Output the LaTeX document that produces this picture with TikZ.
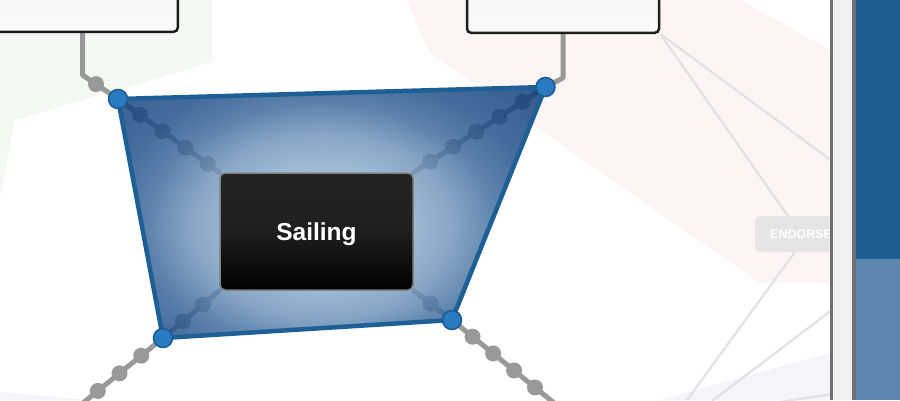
\documentclass[tikz,border=0pt]{standalone}
\usepackage{fontspec}
\setmainfont{Liberation Sans}
\usetikzlibrary{calc}
\definecolor{tintgreen}{RGB}{243,248,242}
\definecolor{tintpink}{RGB}{252,245,244}
\definecolor{tintpurple}{RGB}{246,243,250}
\definecolor{thingray}{RGB}{226,226,226}
\definecolor{labelgray}{RGB}{229,229,229}
\definecolor{panelline}{RGB}{112,112,112}
\definecolor{panelstrip}{RGB}{241,241,241}
\definecolor{paneldark}{RGB}{30,95,145}
\definecolor{panellight}{RGB}{92,134,173}
\definecolor{linkgray}{RGB}{153,153,153}
\definecolor{boxborder}{RGB}{30,30,30}
\definecolor{polyedge}{RGB}{30,95,150}
\definecolor{dotfill}{RGB}{42,122,192}
\definecolor{dotedge}{RGB}{28,90,145}
\definecolor{sailborder}{RGB}{128,128,128}
\definecolor{sc0}{RGB}{151,180,211}
\definecolor{sc1}{RGB}{136,168,201}
\definecolor{sc2}{RGB}{105,143,184}
\definecolor{sc3}{RGB}{51,99,151}
\definecolor{sc4}{RGB}{21,71,131}
\definecolor{sc5}{RGB}{0,51,114}
\pgfdeclareradialshading{polyshade}{\pgfpoint{0bp}{0bp}}{color(0bp)=(sc0); color(10bp)=(sc1); color(15bp)=(sc2); color(20bp)=(sc3); color(25bp)=(sc4); color(35bp)=(sc5); color(50bp)=(sc5)}
\pgfdeclarelayer{bg}
\pgfdeclarelayer{fg}
\pgfsetlayers{bg,main,fg}
\begin{document}
\begin{tikzpicture}[x=1pt,y=-1pt,
  graylink/.style={draw=linkgray,line width=5pt,line cap=round,line join=round},
  bead/.style={fill=linkgray},
  thinline/.style={draw=thingray,line width=2.2pt},
  topbox/.style={draw=boxborder,line width=2.5pt,rounded corners=4pt,top color=white!96!black,bottom color=white!98!black,inner sep=0pt},
  dotnode/.style={circle,minimum size=19pt,inner sep=0pt,fill=dotfill,draw=dotedge,line width=1.5pt},
  sailbox/.style={draw=sailborder,line width=1.5pt,rounded corners=5pt,top color=black!86,bottom color=black,middle color=black!88,inner sep=0pt,minimum width=193pt,minimum height=117pt,text=white,font=\fontsize{24.5}{28}\selectfont\bfseries,text depth=0pt},
  endorsebox/.style={fill=labelgray,rounded corners=5pt,inner xsep=15pt,minimum height=36pt,text=white,font=\fontsize{12.5}{14}\selectfont\bfseries,anchor=west}
]
\useasboundingbox (0,0) rectangle (900,400);

% ---------- background layer ----------
\begin{pgfonlayer}{bg}
\fill[white] (0,0) rectangle (900,400);
\fill[tintgreen] (0,0) -- (212,0) -- (212,62) -- (15,120) -- (0,197) -- cycle;
\fill[tintpink] (407,0) -- (740,0) -- (830,50) -- (830,283) -- (760,283) -- (430,53) -- cycle;
\fill[tintpurple] (660,400) -- (830,353) -- (830,400) -- cycle;
\fill[tintpurple] (0,392) -- (90,400) -- (0,400) -- cycle;
\end{pgfonlayer}

% ---------- foreground nodes ----------
\begin{pgfonlayer}{fg}
\begin{scope}
\clip (0,0) rectangle (900,400);
\node[topbox,minimum width=260pt,minimum height=80pt,anchor=south east] (boxL) at (179,33) {};
\node[topbox,minimum width=192pt,minimum height=80pt,anchor=south] (boxR) at (563,34) {};
\end{scope}
\node[dotnode] (dTL) at (118,99) {};
\node[dotnode] (dTR) at (545.5,87) {};
\node[dotnode] (dBR) at (452,320) {};
\node[dotnode] (dBL) at (163,338) {};
\node[sailbox] (sail) at (316.5,231.5) {Sailing};
\end{pgfonlayer}

% ---------- right-hand thin lines and label ----------
\begin{pgfonlayer}{bg}
\begin{scope}
\clip (0,0) rectangle (900,400);
\coordinate (r1) at (832,161);
\coordinate (e1) at (788,216);
\coordinate (e2) at (795,252);
\coordinate (b1) at (687,400);
\coordinate (r2) at (832,310);
\coordinate (b2) at (712,401);
\coordinate (r3) at (832,394);
\coordinate (b3) at (780,402);
\draw[thinline] (boxR.south east) -- (r1);
\draw[thinline] (boxR.south east) -- (e1);
\draw[thinline] (e2) -- (b1);
\draw[thinline] (r2) -- (b2);
\draw[thinline] (r3) -- (b3);
\node[endorsebox] (endorse) at (755,234) {ENDORSE};
% side panel
\fill[panelline] (830,0) rectangle (832.5,400);
\fill[panelstrip] (832.5,0) rectangle (852,400);
\fill[panelline] (852,0) rectangle (856,400);
\fill[paneldark] (856,0) rectangle (900,258.5);
\fill[panellight] (856,258.5) rectangle (900,400);
\end{scope}
\end{pgfonlayer}

\begin{scope}
\clip (0,0) rectangle (900,400);
% ---------- gray connectors ----------
\coordinate (kTL) at (82.5,75);
\coordinate (kTR) at (563,78);
\coordinate (eBL) at (62,420);
\coordinate (eBR) at (575,420);
\draw[graylink] (boxL.south -| kTL) -- (kTL) -- (dTL.center);
\fill[bead] ($(kTL)!0.38!(dTL.center)$) circle (8pt);
\draw[graylink] (boxR.south -| kTR) -- (kTR) -- (dTR.center);
\draw[graylink] (dBL.center) -- (eBL);
\foreach \d in {28,56,84} \fill[bead] ($(dBL.center)!\d pt!(eBL)$) circle (8pt);
\draw[graylink] (dBR.center) -- (eBR);
\foreach \d in {26.5,53,80,107} \fill[bead] ($(dBR.center)!\d pt!(eBR)$) circle (8pt);
% inner connectors (seen through the translucent area)
\draw[graylink] (dTL.center) -- (sail.north west);
\foreach \d in {27,55,83,111} \fill[bead] ($(dTL.center)!\d pt!(sail.north west)$) circle (8pt);
\draw[graylink] (dTR.center) -- (sail.north east);
\foreach \d in {27.5,55,82.5,110,137.5} \fill[bead] ($(dTR.center)!\d pt!(sail.north east)$) circle (8pt);
\draw[graylink] (dBL.center) -- (sail.south west);
\foreach \d in {26,52} \fill[bead] ($(dBL.center)!\d pt!(sail.south west)$) circle (8pt);
\draw[graylink] (dBR.center) -- (sail.south east);
\fill[bead] ($(dBR.center)!27pt!(sail.south east)$) circle (8pt);

% ---------- translucent quadrilateral ----------
\begin{scope}
\clip (dTL.center) -- (dTR.center) -- (dBR.center) -- (dBL.center) -- cycle;
\shade[shading=polyshade,opacity=0.8] (102,72) rectangle (542,380);
\end{scope}
\draw[draw=polyedge,line width=4.5pt,line join=round] (dTL.center) -- (dTR.center) -- (dBR.center) -- (dBL.center) -- cycle;
\end{scope}
\end{tikzpicture}
\end{document}
